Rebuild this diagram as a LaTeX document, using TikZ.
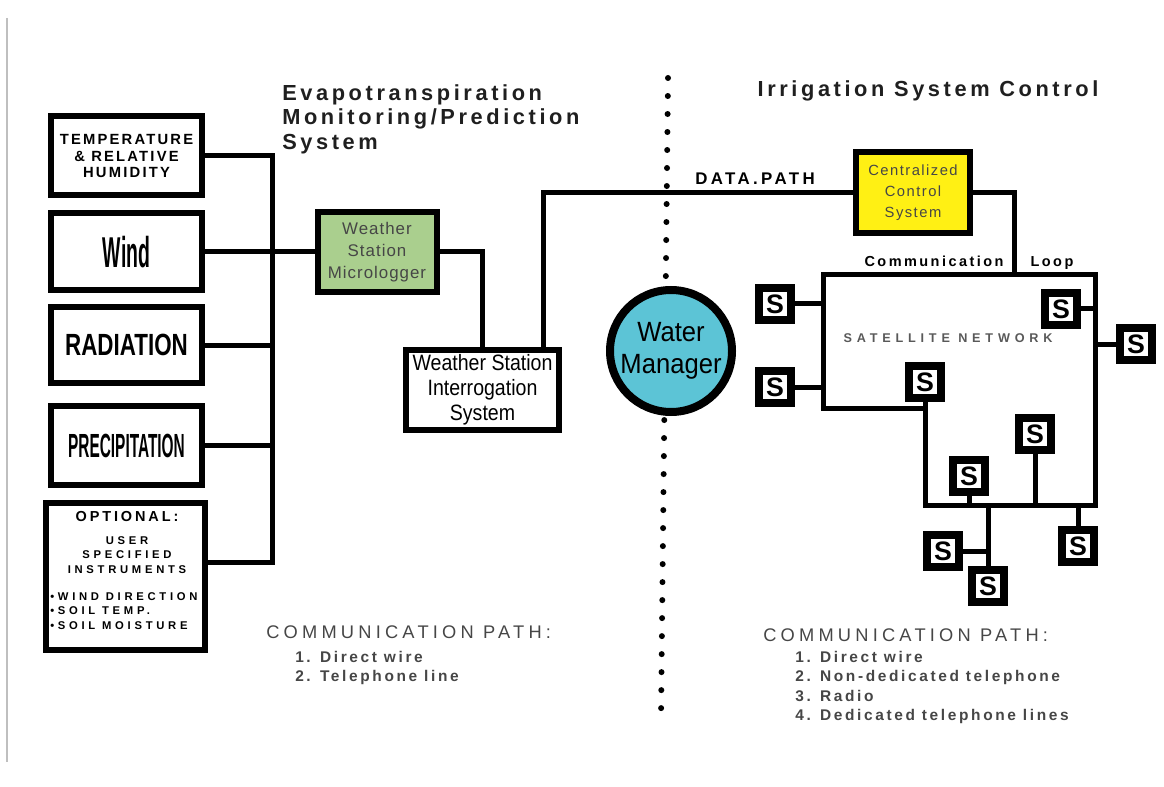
\documentclass[tikz,border=0pt]{standalone}
\usepackage{fontspec}
\setmainfont{Liberation Sans}
\usetikzlibrary{calc}
\definecolor{wsgreen}{RGB}{170,207,142}
\definecolor{ccyellow}{RGB}{255,240,20}
\definecolor{wmcyan}{RGB}{92,196,214}
\definecolor{txtgray}{RGB}{70,70,70}
\newlength\px
\setlength\px{0.025cm}
\newcommand\fsz[2]{\fontsize{#1}{#2}\selectfont}
\newcommand\trk[1]{\addfontfeatures{LetterSpace=#1}}
\newcommand\nrw[1]{\addfontfeatures{FakeStretch=#1}}

\begin{document}
\begin{tikzpicture}[x=0.025cm,y=-0.025cm,
	sensor/.style={draw, line width=6\px, fill=white, minimum width=151\px, minimum height=78\px, inner sep=0pt, align=center},
	unit/.style={draw, line width=6\px, inner sep=0pt, align=center},
	sat/.style={draw, line width=8\px, fill=white, minimum size=32\px, inner sep=0pt, font=\bfseries\fsz{19}{19}},
	wire/.style={line width=5\px},
	title/.style={inner sep=0pt, text=black!88, font=\bfseries\fsz{15.5}{17.5}\trk{16.5}},
	pathhead/.style={inner sep=0pt, anchor=base west, text=txtgray, font=\fsz{13}{14}\trk{23}},
	pathitems/.style={inner sep=0pt, anchor=north west, align=left, text=txtgray, font=\bfseries\fsz{11}{13.7}\trk{17}}]
	\useasboundingbox (0,0) rectangle (1164,787);
	\draw[black!25, line width=1.5\px] (7,18) -- (7,762);
	
	% dividing line
	\draw[line width=6\px, line cap=round, dash pattern=on 0pt off 0.45cm] (668,78) -- (661,718);
	
	% titles
	\node[title, anchor=north west, align=left] (ettitle) at (282,84) {Evapotranspiration\\Monitoring/Prediction\\System};
	\node[title, anchor=base] (irtitle) at (928,97) {Irrigation System Control};
	
	% sensors
	\node[sensor, minimum height=79\px, font=\bfseries\fsz{10.5}{11.7}\trk{15}] (temp) at (126.5,156) {TEMPERATURE\\\& RELATIVE\\HUMIDITY};
	\node[sensor, minimum height=77\px, font=\bfseries\fsz{30.7}{31}\nrw{0.45}] (wind) at (126.5,252) {Wind};
	\node[sensor, minimum height=76\px, font=\bfseries\fsz{21.8}{22}\nrw{0.73}] (rad) at (126.5,345) {RADIATION};
	\node[sensor, minimum height=79\px, font=\bfseries\fsz{23.8}{24}\nrw{0.46}] (prec) at (126.5,445.5) {PRECIPITATION};
	\node[sensor, minimum width=159\px, minimum height=147\px] (opt) at (125.5,576.5) {};
	\node[inner sep=0pt, font=\bfseries\fsz{10.3}{11}\trk{20}] (opthead) at (127,517) {OPTIONAL:};
	\node[inner sep=0pt, align=center, font=\bfseries\fsz{8}{10.3}\trk{33}] (optuser) at (127,555) {USER\\SPECIFIED\\INSTRUMENTS};
	\node[inner sep=0pt, anchor=west, align=left, font=\bfseries\fsz{8}{10.3}\trk{33}] (optlist) at (50,611) {•WIND DIRECTION\\•SOIL TEMP.\\•SOIL MOISTURE};
	
	% sensor bus
	\coordinate (bus) at (272,0);
	\coordinate (busend) at (272,562);
	\draw[wire] (temp.east) -| (busend) -- (busend -| opt.east);
	\foreach \s in {rad,prec}
		\draw[wire] (\s.east) -- (\s.east -| bus);
	
	% weather station
	\node[unit, fill=wsgreen, minimum width=119\px, minimum height=80\px, text=txtgray, font=\fsz{12}{15.6}\trk{6}] (logger) at (377,252) {Weather\\Station\\Micrologger};
	\node[unit, fill=white, minimum width=153\px, minimum height=80\px, font=\fsz{15.8}{17.7}\nrw{0.88}] (wsis) at (482.5,390) {Weather Station\\Interrogation\\System};
	\draw[wire] (wind.east) -- (logger.west);
	\draw[wire] (logger.east) -| (wsis.north);
	
	% water manager
	\node[circle, draw, line width=8\px, fill=wmcyan, minimum size=122\px, inner sep=0pt, align=center, font=\fsz{19.8}{22.7}\nrw{0.92}] (wm) at (671,351) {Water\\Manager};
	
	% data path
	\node[unit, fill=ccyellow, minimum width=114\px, minimum height=81\px, text=txtgray, font=\fsz{10.5}{14.9}\trk{10}] (ccs) at (913,192.5) {Centralized\\Control\\System};
	\coordinate (dp) at (543,0);
	\draw[wire] (wsis.north -| dp) |- (ccs.west);
	\node[inner sep=0pt, anchor=base, font=\bfseries\fsz{12}{12}\trk{20}] (dplbl) at (755,185) {DATA.PATH};
	
	% satellite network
	\coordinate (lt) at (823,275);
	\coordinate (rt) at (1095,275);
	\coordinate (rb) at (1095,505);
	\coordinate (ib) at (925,505);
	\coordinate (ic) at (925,408);
	\coordinate (lb) at (823,408);
	\coordinate (loopin) at (1014,275);
	\draw[wire, line join=miter] (lt) -- (rt) -- (rb) -- (ib) -- (ic) -- (lb) -- cycle;
	\draw[wire] (ccs.east) -| (loopin);
	\node[inner sep=0pt, anchor=base, font=\bfseries\fsz{10.3}{11}\trk{17}] (comlbl) at (934,267) {Communication};
	\node[inner sep=0pt, anchor=base, font=\bfseries\fsz{10.3}{11}\trk{17}] (looplbl) at (1052,267) {Loop};
	\node[inner sep=0pt, anchor=base, text=black!65, font=\bfseries\fsz{9}{9}\trk{38}] (netlbl) at (948,342) {SATELLITE NETWORK};
	
	\node[sat] (s1) at (775,304) {S};
	\node[sat] (s2) at (775,387) {S};
	\node[sat] (s3) at (1061,309) {S};
	\node[sat] (s4) at (1136,344) {S};
	\node[sat] (s5) at (925,382) {S};
	\node[sat] (s6) at (1035,434) {S};
	\node[sat] (s7) at (969,476) {S};
	\node[sat] (s8) at (1078,546) {S};
	\node[sat] (s9) at (943,551) {S};
	\node[sat] (s10) at (988,586) {S};
	\foreach \s in {s1,s2}
		\draw[wire] (\s.east) -- (\s.east -| lt);
	\draw[wire] (s3.east) -- (s3.east -| rt);
	\draw[wire] (s4.west) -- (s4.west -| rt);
	\draw[wire] (s5.south) -- (ic);
	\foreach \s in {s6,s7}
		\draw[wire] (\s.south) -- (\s.south |- ib);
	\draw[wire] (s8.north) -- (s8.north |- ib);
	\draw[wire] (s10.north) -- (s10.north |- ib);
	\draw[wire] (s9.east) -- (s9.east -| s10);
	
	% communication paths
	\node[pathhead] (lefthead) at (266,638) {COMMUNICATION PATH:};
	\node[pathitems] (leftlist) at (295,651) {1. Direct wire\\2. Telephone line};
	\node[pathhead] (righthead) at (763,641) {COMMUNICATION PATH:};
	\node[pathitems] (rightlist) at (795,651) {1. Direct wire\\2. Non-dedicated telephone\\3. Radio\\4. Dedicated telephone lines};
\end{tikzpicture}
\end{document}
